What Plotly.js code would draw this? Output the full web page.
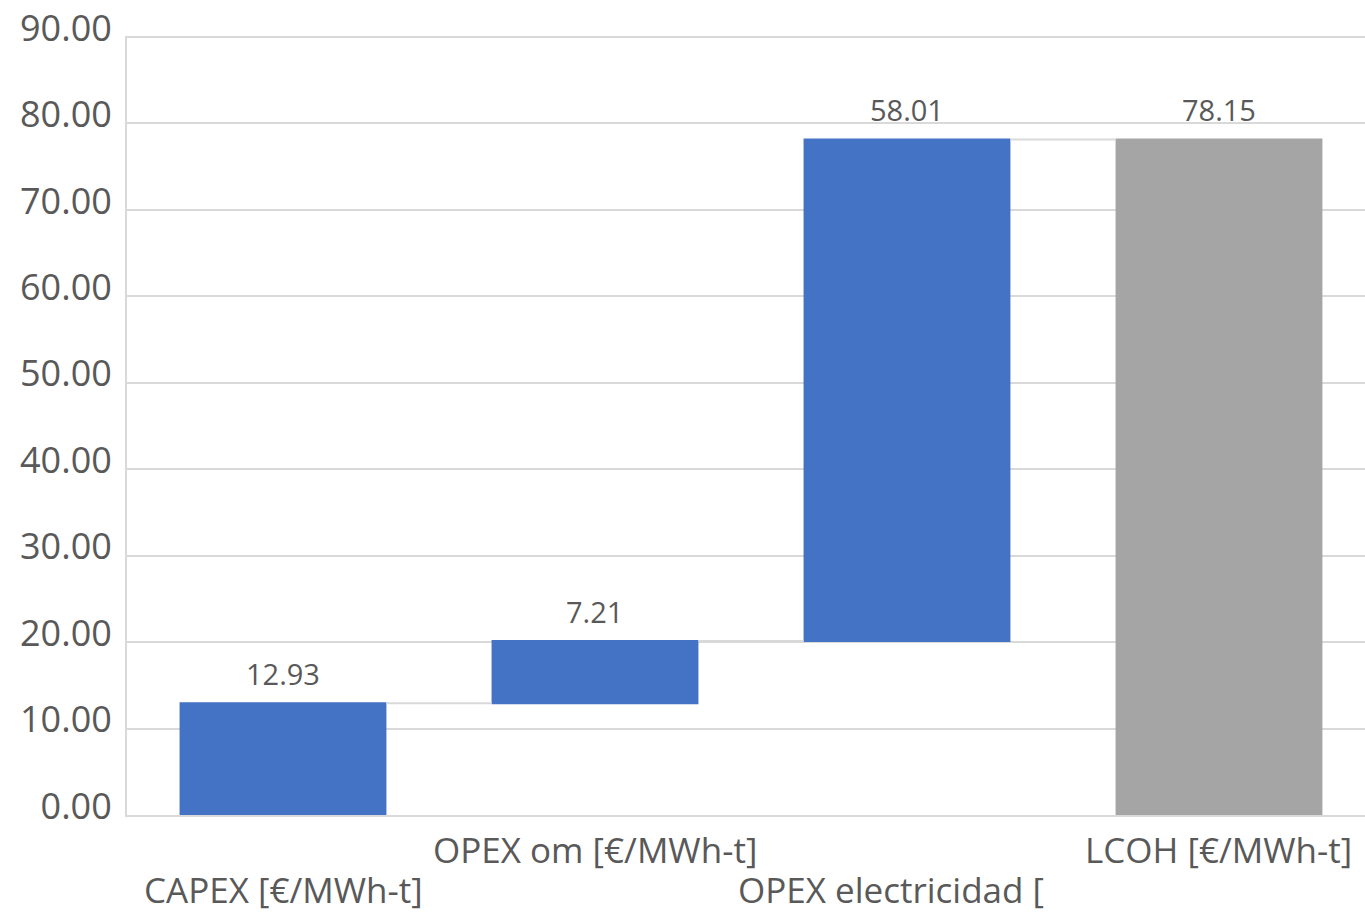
<!DOCTYPE html>
<html>
<head>
<meta charset="utf-8">
<script src="https://cdn.plot.ly/plotly-3.0.1.min.js"></script>
<style>html,body{margin:0;padding:0;background:#fff;}#chart{width:1365px;height:913px;}</style>
</head>
<body>
<div id="chart"></div>
<script>
const categories = ["CAPEX [€/MWh-t]", "OPEX om [€/MWh-t]", "OPEX electricidad [", "LCOH [€/MWh-t]"];
const values = [12.93, 7.21, 58.01, 78.15];
const measures = ["relative", "relative", "relative", "total"];
const valueLabels = ["12.93", "7.21", "58.01", "78.15"];
const labelRow = [1, 0, 1, 0]; // 0 = upper row, 1 = lower row
const yTicks = [0, 10, 20, 30, 40, 50, 60, 70, 80, 90];

const textColor = "#595959";
const font = "Open Sans, sans-serif";

// cumulative tops for label placement
const tops = [];
let run = 0;
values.forEach((v, i) => {
  if (measures[i] === "total") { run = v; } else { run += v; }
  tops.push(run);
});

const annotations = [];
categories.forEach((c, i) => {
  annotations.push({
    x: i, y: tops[i], xref: "x", yref: "y",
    text: valueLabels[i], showarrow: false,
    yanchor: "bottom", yshift: 8,
    font: {family: font, size: 29, color: textColor}
  });
  annotations.push({
    x: i, xref: "x", yref: "paper",
    y: 0, yanchor: "top",
    yshift: labelRow[i] === 0 ? -10 : -50,
    xshift: i === 2 ? -16 : 0,
    borderpad: 0,
    text: c, showarrow: false,
    font: {family: font, size: 35, color: textColor}
  });
});

const trace = {
  type: "waterfall",
  x: categories.map((c, i) => i),
  y: values,
  measure: measures,
  width: 0.663,
  increasing: {marker: {color: "#4472C4"}},
  decreasing: {marker: {color: "#ED7D31"}},
  totals: {marker: {color: "#A5A5A5"}},
  connector: {line: {color: "#d9d9d9", width: 2}},
  textinfo: "none",
  hoverinfo: "skip"
};

const layout = {
  width: 1365, height: 913,
  margin: {l: 127, r: 0, t: 36, b: 98},
  paper_bgcolor: "#fff", plot_bgcolor: "#fff",
  showlegend: false,
  xaxis: {
    range: [-0.5, 3.468],
    showticklabels: false, showgrid: false, zeroline: false,
    showline: true, linecolor: "#d9d9d9", linewidth: 2,
    fixedrange: true
  },
  yaxis: {
    range: [0, 90.12],
    tickvals: yTicks,
    tickformat: ".2f",
    showgrid: true, gridcolor: "#d9d9d9", gridwidth: 2,
    zeroline: false,
    showline: true, linecolor: "#d9d9d9", linewidth: 2,
    ticks: "", ticklabelstandoff: 6, ticklabelshift: -9,
    tickfont: {family: font, size: 36, color: textColor},
    fixedrange: true
  },
  annotations: annotations
};

Plotly.newPlot("chart", [trace], layout, {displayModeBar: false, staticPlot: true});
</script>
</body>
</html>
